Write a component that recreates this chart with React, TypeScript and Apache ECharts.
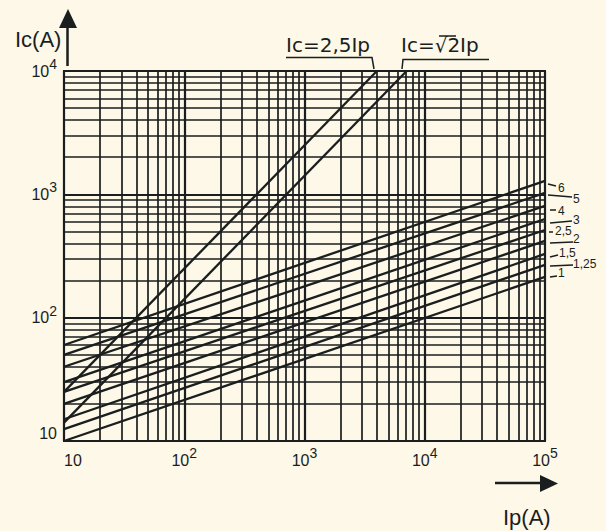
import { useEffect, useRef } from 'react';
import * as echarts from 'echarts';

const INK = '#1a1e1e';
const BG = '#fdf8e7';

// axis ranges (A)
const ipRange = [10, 100000];
const icRange = [10, 10000];

// family of curves, labelled by factor; Ic read at Ip = 10 and at Ip = 1e5
const familyLabels = ['1', '1,25', '1,5', '2', '2,5', '3', '4', '5', '6'];
const familyIp = [10, 100000];
const familyIcStart = [10, 12.5, 15, 20, 25, 30, 40, 50, 60];
const familyIcEnd = [214, 268, 329, 419, 514, 631, 805, 1026, 1285];

// steep reference lines
const line25Name = 'Ic=2,5Ip';
const line25Ip = [10, 4000];
const line25Ic = [25, 10000];
const lineSqrt2Name = 'Ic=√2Ip';
const lineSqrt2Ip = [10, 7070];
const lineSqrt2Ic = [14.1, 10000];

// logarithmic grid
const minorSteps = [2, 3, 4, 5, 6, 7, 8, 9];
const xDecades = [10, 100, 1000, 10000];
const yDecades = [10, 100, 1000];

export default function App() {
  const ref = useRef<HTMLDivElement>(null);
  useEffect(() => {
    document.body.style.margin = '0';
    const chart = echarts.init(ref.current!, null, { renderer: 'svg' });

    const minorX = xDecades.flatMap((d) => minorSteps.map((m) => ({ xAxis: d * m })));
    const minorY = yDecades.flatMap((d) => minorSteps.map((m) => ({ yAxis: d * m })));

    const xFmt = (v: number) => {
      const e = Math.round(Math.log10(v));
      return e === 1 ? '{b|10}{s| }' : `{b|10}{s|${e}}`;
    };
    const yFmt = (v: number) => {
      const e = Math.round(Math.log10(v));
      return e === 1 ? '{b|10}' : `{b|10}{s|${e}}`;
    };
    const rich = {
      b: { fontSize: 16, fontFamily: 'Liberation Sans', color: INK },
      s: { fontSize: 14, fontFamily: 'Liberation Sans', color: INK, padding: [0, 0, 14, 0] },
    };
    const lineStyle = { color: INK, width: 2.3 };

    const series: any[] = familyLabels.map((name, i) => ({
      type: 'line',
      name,
      data: [
        [familyIp[0], familyIcStart[i]],
        [familyIp[1], familyIcEnd[i]],
      ],
      symbol: 'none',
      lineStyle,
      silent: true,
      z: 3,
    }));
    series[0].markLine = {
      silent: true,
      symbol: ['none', 'none'],
      label: { show: false },
      emphasis: { disabled: true },
      lineStyle: { color: INK, width: 1.7, type: 'solid' },
      data: [...minorX, ...minorY],
      animation: false,
      z: 1,
    };
    series.push({
      type: 'line',
      name: line25Name,
      data: line25Ip.map((x, i) => [x, line25Ic[i]]),
      symbol: 'none',
      lineStyle,
      silent: true,
      z: 3,
    });
    series.push({
      type: 'line',
      name: lineSqrt2Name,
      data: lineSqrt2Ip.map((x, i) => [x, lineSqrt2Ic[i]]),
      symbol: 'none',
      lineStyle,
      silent: true,
      z: 3,
    });

    const txt = (text: string, x: number, y: number, size: number, family = 'Liberation Sans', align = 'left') => ({
      type: 'text',
      x,
      y,
      style: { text, fill: INK, fontSize: size, fontFamily: family, align, verticalAlign: 'middle' },
    });
    const pl = (points: number[][], w = 1.5) => ({
      type: 'polyline',
      shape: { points },
      style: { stroke: INK, lineWidth: w, fill: 'none' },
    });

    const rightLabels: any[] = [
      txt('6', 558, 188, 12), pl([[548, 184], [556, 186]]),
      txt('5', 573, 199, 12), pl([[548, 195], [572, 197]]),
      txt('4', 558, 211, 12), pl([[550, 210], [556, 210]]),
      txt('3', 573, 220, 12), pl([[550, 223], [572, 221]]),
      txt('2,5', 555, 231, 12), pl([[549, 232], [553, 232]]),
      txt('2', 573, 239, 12), pl([[550, 243], [573, 242]]),
      txt('1,5', 559, 253, 12), pl([[550, 257], [558, 255]]),
      txt('1,25', 573, 264, 12), pl([[550, 266], [573, 265]]),
      txt('1', 558, 273, 12), pl([[550, 277], [557, 276]]),
    ];

    chart.setOption({
      animation: false,
      backgroundColor: BG,
      grid: {
        left: 64,
        right: 61,
        top: 71,
        bottom: 90,
        show: true,
        borderColor: INK,
        borderWidth: 2,
        backgroundColor: 'transparent',
      },
      xAxis: {
        type: 'log',
        logBase: 10,
        min: ipRange[0],
        max: ipRange[1],
        axisLine: { show: true, onZero: false, lineStyle: { color: INK, width: 2 } },
        axisTick: { show: false },
        splitLine: { show: true, lineStyle: { color: INK, width: 2.2 } },
        axisLabel: { formatter: xFmt, rich, margin: 5, alignMinLabel: 'left', color: INK },
      },
      yAxis: {
        type: 'log',
        logBase: 10,
        min: icRange[0],
        max: icRange[1],
        axisLine: { show: true, onZero: false, lineStyle: { color: INK, width: 2 } },
        axisTick: { show: false },
        splitLine: { show: true, lineStyle: { color: INK, width: 2.2 } },
        axisLabel: { formatter: yFmt, rich, margin: 7, verticalAlignMinLabel: 'bottom', color: INK },
      },
      series,
      graphic: [
        // axis titles and arrows
        txt('Ic(A)', 15, 39, 22),
        pl([[67.5, 66], [67.5, 24]], 2.5),
        { type: 'polygon', shape: { points: [[59, 28], [77, 28], [68, 9]] }, style: { fill: INK } },
        txt('Ip(A)', 503, 517, 22),
        pl([[495, 483], [544, 483]], 2.5),
        { type: 'polygon', shape: { points: [[540, 475], [540, 492], [558, 483.5]] }, style: { fill: INK } },
        // reference line annotations
        txt(line25Name, 286, 45, 20, 'DejaVu Sans'),
        pl([[286, 57.5], [372, 57.5], [374, 69]]),
        txt(lineSqrt2Name, 401, 45, 20, 'DejaVu Sans'),
        pl([[439, 36], [456, 36]]),
        pl([[402, 69], [403, 59.5], [489, 59.5]]),
        ...rightLabels,
      ],
    });
    return () => chart.dispose();
  }, []);
  return (
    <div
      ref={ref}
      style={{ position: 'fixed', left: 0, top: 0, width: 606, height: 531, background: BG }}
    />
  );
}
